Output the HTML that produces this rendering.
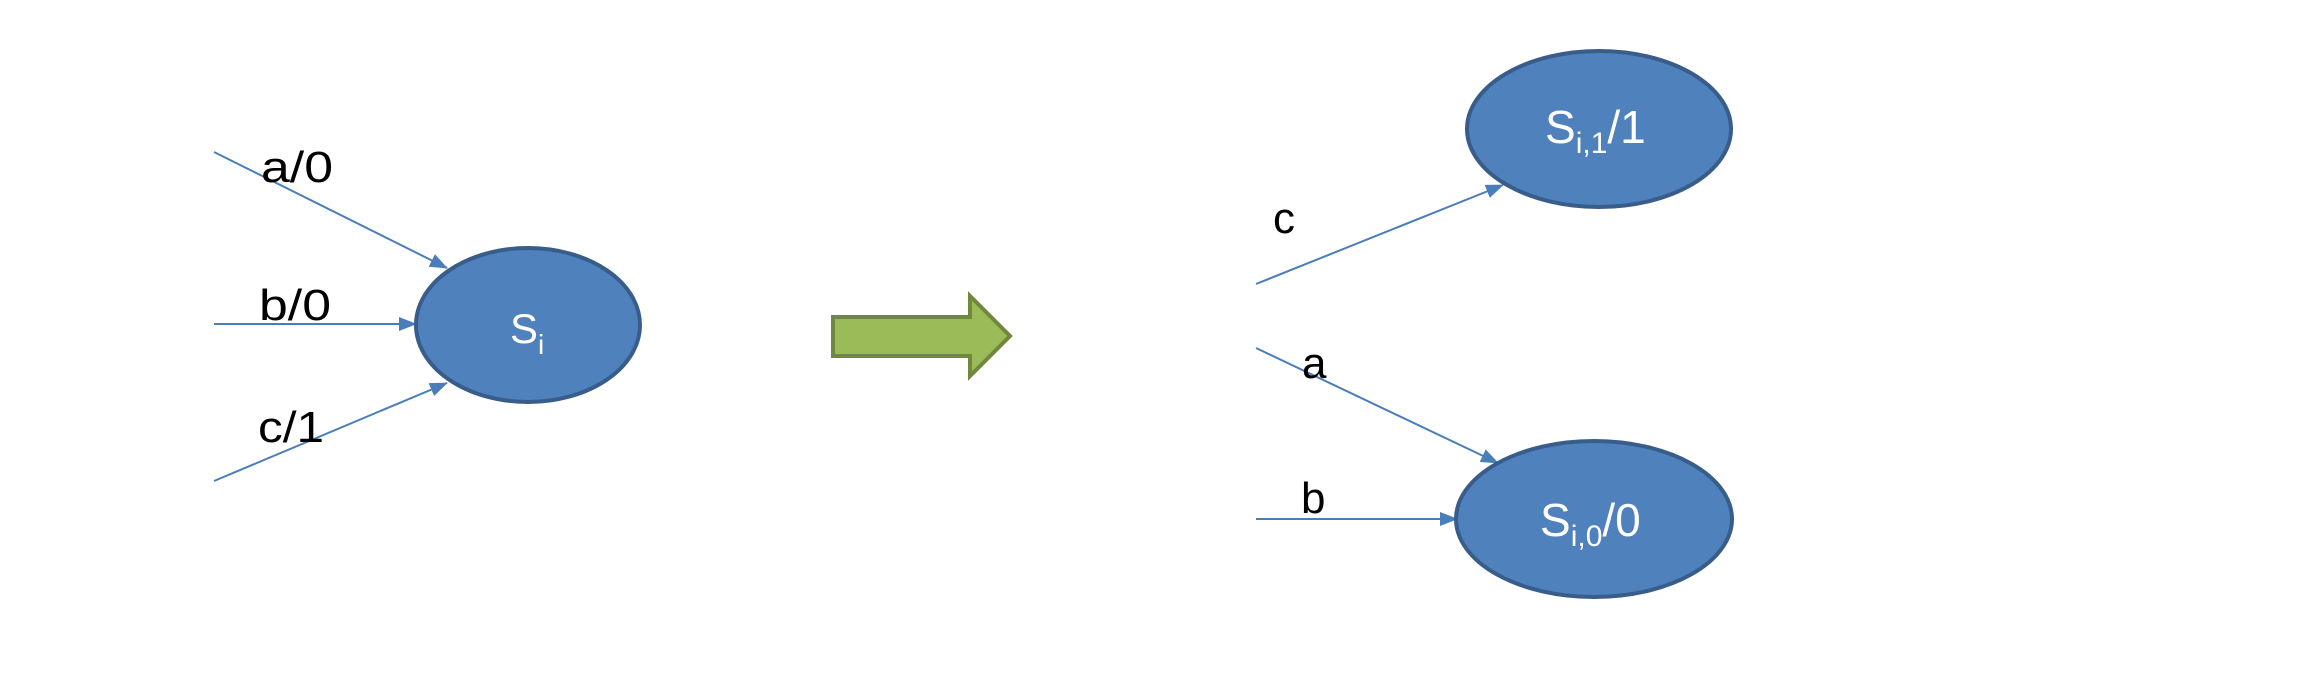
<!DOCTYPE html>
<html><head><meta charset="utf-8"><style>
html,body{margin:0;padding:0;background:#fff;}
svg{display:block;}
text{font-family:"Liberation Sans",sans-serif;}
</style></head><body>
<svg width="2319" height="673" viewBox="0 0 2319 673" xmlns="http://www.w3.org/2000/svg">
<defs>
<marker id="ar2" markerWidth="18" markerHeight="14" refX="17" refY="7" orient="auto" markerUnits="userSpaceOnUse" viewBox="0 0 18 14">
<path d="M0,0 L18,7 L0,14 z" fill="#4a7ebb"/>
</marker>
</defs>
<g stroke="#4a7ebb" stroke-width="2" fill="none">
<line x1="214" y1="152" x2="447" y2="268" marker-end="url(#ar2)"/>
<line x1="214" y1="324" x2="416" y2="324" marker-end="url(#ar2)"/>
<line x1="214" y1="481" x2="447" y2="383" marker-end="url(#ar2)"/>
<line x1="1256" y1="284" x2="1503" y2="185" marker-end="url(#ar2)"/>
<line x1="1256" y1="348" x2="1498" y2="463" marker-end="url(#ar2)"/>
<line x1="1256" y1="519" x2="1457" y2="519" marker-end="url(#ar2)"/>
</g>
<ellipse cx="528" cy="325" rx="112" ry="77" fill="#4f81bd" stroke="#385d8a" stroke-width="4"/>
<ellipse cx="1599" cy="129" rx="132" ry="78" fill="#4f81bd" stroke="#385d8a" stroke-width="4"/>
<ellipse cx="1594" cy="519" rx="138" ry="78" fill="#4f81bd" stroke="#385d8a" stroke-width="4"/>
<path d="M833,317 L970,317 L970,296 L1010,336 L970,376 L970,356 L833,356 Z" fill="#9bbb59" stroke="#71893f" stroke-width="4"/>
<g fill="#000" font-size="44">
<text x="261" y="182" textLength="72" lengthAdjust="spacingAndGlyphs">a/0</text>
<text x="259" y="320" textLength="72" lengthAdjust="spacingAndGlyphs">b/0</text>
<text x="258" y="442" textLength="66" lengthAdjust="spacingAndGlyphs">c/1</text>
<text x="1273" y="233">c</text>
<text x="1302" y="378">a</text>
<text x="1301" y="513">b</text>
</g>
<g fill="#fff">
<text x="510" y="343" font-size="42">S<tspan font-size="28" dy="11">i</tspan></text>
<text x="1545" y="143" font-size="46">S<tspan font-size="30" dy="10">i,1</tspan><tspan dy="-10">/1</tspan></text>
<text x="1540" y="536" font-size="46">S<tspan font-size="30" dy="10">i,0</tspan><tspan dy="-10">/0</tspan></text>
</g>
</svg>
</body></html>
